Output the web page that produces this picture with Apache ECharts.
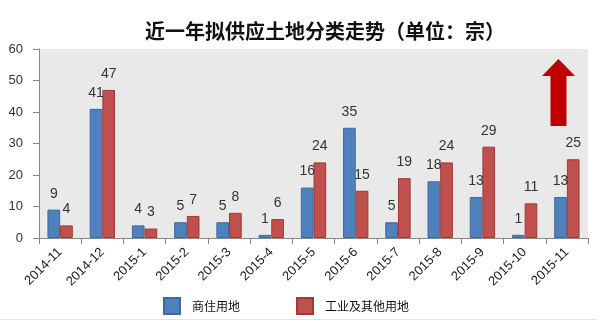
<!DOCTYPE html>
<html>
<head>
<meta charset="utf-8">
<script src="https://cdn.jsdelivr.net/npm/echarts@6/dist/echarts.min.js"></script>
<style>
  html, body { margin: 0; padding: 0; background: #fff; }
  #chart { width: 597px; height: 322px; }
</style>
</head>
<body>
<div id="chart"></div>
<script>
// Monthly counts of land parcels planned for supply, by category
const months = ['2014-11', '2014-12', '2015-1', '2015-2', '2015-3', '2015-4',
  '2015-5', '2015-6', '2015-7', '2015-8', '2015-9', '2015-10', '2015-11'];
const residential = [9, 41, 4, 5, 5, 1, 16, 35, 5, 18, 13, 1, 13];
const industrial = [4, 47, 3, 7, 8, 6, 24, 15, 19, 24, 29, 11, 25];
const yTicks = [0, 10, 20, 30, 40, 50, 60];

const font = '"Liberation Sans", "Noto Sans CJK SC", sans-serif';
const chart = echarts.init(document.getElementById('chart'));

const labelStyle = {
  show: true,
  position: 'top',
  distance: 9,
  fontSize: 14,
  color: '#333',
  fontFamily: font
};

chart.setOption({
  animation: false,
  title: {
    text: '近一年拟供应土地分类走势（单位：宗）',
    left: 320,
    textAlign: 'center',
    top: 16,
    textStyle: {
      fontSize: 20,
      fontWeight: 'bold',
      color: '#111',
      fontFamily: '"Noto Sans CJK SC", sans-serif'
    }
  },
  legend: {
    bottom: 7,
    left: 163,
    padding: 0,
    icon: 'rect',
    itemWidth: 16,
    itemHeight: 16,
    itemGap: 56,
    textStyle: {
      fontSize: 12,
      color: '#111',
      fontFamily: '"Noto Sans CJK SC", sans-serif',
      padding: [0, 0, 0, 7]
    },
    data: ['商住用地', '工业及其他用地']
  },
  grid: {
    left: 39,
    right: 9,
    top: 49,
    bottom: 84,
    show: true,
    backgroundColor: '#e9e9e9',
    borderWidth: 0
  },
  xAxis: {
    type: 'category',
    data: months,
    axisLine: { lineStyle: { color: '#888', width: 1 } },
    axisTick: { show: true, length: 6, lineStyle: { color: '#888' } },
    axisLabel: {
      rotate: 45,
      interval: 0,
      margin: 12,
      fontSize: 13,
      color: '#222',
      fontFamily: font
    }
  },
  yAxis: {
    type: 'value',
    min: yTicks[0],
    max: yTicks[yTicks.length - 1],
    interval: 10,
    axisLine: { show: true, lineStyle: { color: '#888' } },
    axisTick: { show: true, length: 6, lineStyle: { color: '#888' } },
    splitLine: { show: false },
    axisLabel: {
      margin: 16,
      fontSize: 13,
      color: '#333',
      fontFamily: font
    }
  },
  series: [
    {
      name: '商住用地',
      type: 'bar',
      data: residential,
      barGap: '0%',
      barCategoryGap: '40%',
      itemStyle: { color: '#4f81bd', borderColor: '#3c6a9f', borderWidth: 1 },
      label: labelStyle
    },
    {
      name: '工业及其他用地',
      type: 'bar',
      data: industrial,
      itemStyle: { color: '#c0504d', borderColor: '#9c3b38', borderWidth: 1 },
      label: labelStyle
    }
  ],
  graphic: [
    {
      // upward trend arrow in the top-right corner
      type: 'polygon',
      shape: {
        points: [[558.5, 59], [575, 76], [566.5, 76], [566.5, 126],
          [550.5, 126], [550.5, 76], [542, 76]]
      },
      style: { fill: '#c00000' }
    },
    {
      type: 'line',
      shape: { x1: 0, y1: 319.5, x2: 597, y2: 319.5 },
      style: { stroke: '#e2e2e2', lineWidth: 1 }
    }
  ]
});
</script>
</body>
</html>
